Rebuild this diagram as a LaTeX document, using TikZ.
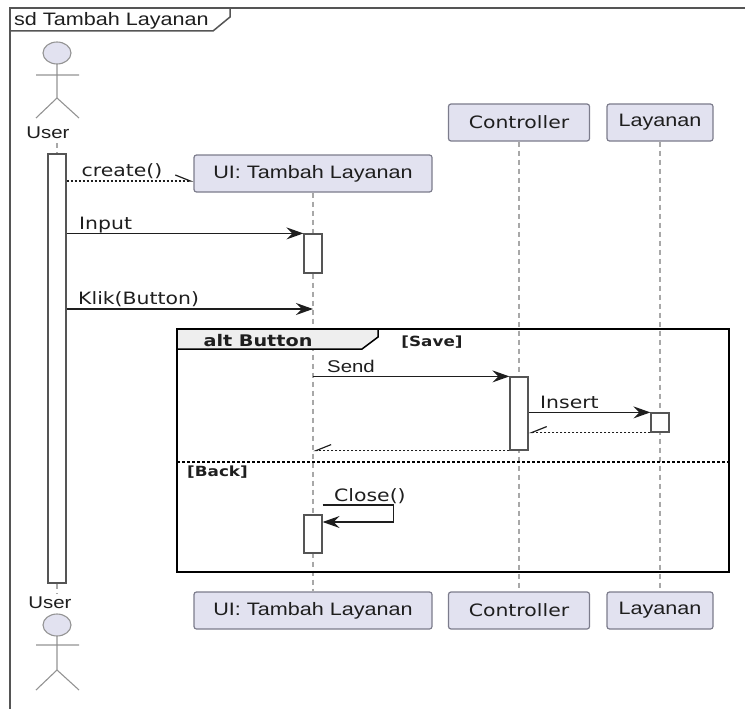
\documentclass[tikz,border=0pt]{standalone}
\usepackage{fontspec}
\setmainfont{Liberation Sans}
\newfontfamily\arialw[FakeStretch=1.2]{Liberation Sans}
\newfontfamily\vera[FakeStretch=1.2]{DejaVu Sans}
\usetikzlibrary{arrows.meta}
\definecolor{partfill}{HTML}{E2E2F0}
\definecolor{partline}{HTML}{7C7C8C}
\definecolor{lifegray}{HTML}{A8A8A8}
\definecolor{framegray}{HTML}{555555}
\definecolor{tabgray}{HTML}{EEEEEE}
\definecolor{ink}{HTML}{1E1E1E}
\tikzset{
	part/.style={draw=partline,fill=partfill,rounded corners=2.5pt,line width=1.2pt,minimum height=37pt,inner sep=0pt,text=ink,font=\arialw\fontsize{18}{20}\selectfont},
	act/.style={draw=framegray,fill=white,line width=1.2pt,minimum width=18pt,inner sep=0pt},
	life/.style={lifegray,line width=1.5pt,dash pattern=on 5pt off 4pt},
	msg/.style={ink,line width=1.3pt,-{Stealth[length=17pt,width=12pt,inset=6pt]}},
	ret/.style={ink,line width=1.2pt,dash pattern=on 2pt off 2pt,-{Straight Barb[harpoon,length=15pt,width=12pt]}},
	retback/.style={ink,line width=1.2pt,dash pattern=on 2pt off 2pt,-{Straight Barb[harpoon,swap,length=15pt,width=12pt]}},
	lbl/.style={text=ink,inner sep=0pt,anchor=base west,font=\vera\fontsize{17}{20}\selectfont},
	stick/.style={gray!85,line width=1.1pt},
	actorname/.style={text=ink,inner sep=1pt,font=\arialw\fontsize{17}{19}\selectfont},
}
\begin{document}
\begin{tikzpicture}[x=1pt,y=-1pt]
	%\draw[step=10,gray!15] (0,0) grid (745,709); %helper grid in pixels
	\useasboundingbox (0,0) rectangle (745,709);
	\draw[framegray,line width=2pt] (10,709) -- (10,8) -- (745,8); \draw[framegray,line width=1.5pt] (10,31) -- (213,31) -- (230,17) -- (230,8);
	\node[lbl,font=\arialw\fontsize{18}{20}\selectfont] (title) at (14,26) {sd Tambah Layanan};
	
	% actors
	\draw[stick,fill=partfill] (57,53) ellipse (14 and 11); \draw[stick] (36,75) -- (79,75) (57,64) -- (57,98) (36,118) -- (57,98) -- (79,118);
	\draw[stick,fill=partfill] (57,625) ellipse (14 and 11); \draw[stick] (36,645) -- (79,645) (57,636) -- (57,670) (36,690) -- (57,670) -- (79,690);
	\node[actorname] (userTop) at (48,133) {User}; \node[actorname] (userBot) at (50,603) {User};
	
	% participants
	\node[part,minimum width=238pt] (uiTop) at (313,173.5) {UI: Tambah Layanan}; \node[part,minimum width=141pt,font=\vera\fontsize{17}{20}\selectfont] (ctrlTop) at (519,122.5) {Controller}; \node[part,minimum width=106pt] (layTop) at (660,122.5) {Layanan};
	\node[part,minimum width=238pt] (uiBot) at (313,610.5) {UI: Tambah Layanan}; \node[part,minimum width=141pt,font=\vera\fontsize{17}{20}\selectfont] (ctrlBot) at (519,610.5) {Controller}; \node[part,minimum width=106pt] (layBot) at (660,610.5) {Layanan};
	\draw[life] (57,143) -- (57,594); \draw[life] (uiTop) -- (uiBot); \draw[life] (ctrlTop) -- (ctrlBot); \draw[life] (layTop) -- (layBot);
	
	% activations
	\node[act,minimum height=429pt] (actUser) at (57,368.5) {}; \node[act,minimum height=39pt] (actIn) at (313,253.5) {};
	\node[act,minimum height=73pt] (actSend) at (519,413.5) {}; \node[act,minimum height=19pt] (actIns) at (660,422.5) {};
	\node[act,minimum height=38pt] (actClose) at (313,534) {};
	
	% alt fragment
	\draw[line width=2.5pt] (177,329) rectangle (729,572);
	\draw[line width=1.5pt,fill=tabgray] (177,329) -- (378,329) -- (378,337) -- (362,349) -- (177,349) -- cycle;
	\node[lbl,anchor=base,font=\vera\bfseries\fontsize{16}{18}\selectfont] (altName) at (258,346) {alt Button}; \node[lbl,anchor=base,font=\vera\bfseries\fontsize{14}{16}\selectfont] (grdSave) at (432,346) {[Save]};
	\draw[line width=1.1pt,dash pattern=on 2.5pt off 2.5pt] (177,462) -- (729,462); \node[lbl,font=\vera\bfseries\fontsize{14}{16}\selectfont] (grdBack) at (187,476) {[Back]};
	
	% messages
	\draw[ret] (actUser.east |- 0,181) -- (uiTop.west |- 0,181); \node[lbl,anchor=base] (lCreate) at (122,176) {create()};
	\draw[msg] (actUser.east |- actIn.north) -- (actIn.north west); \node[lbl] (lInput) at (79,229) {Input};
	\draw[msg] (actUser.east |- 0,309) -- (uiTop |- 0,309); \node[lbl] (lKlik) at (78,304) {Klik(Button)};
	\draw[msg] (uiTop |- actSend.north) -- (actSend.north west); \node[lbl,font=\arialw\fontsize{17}{20}\selectfont] (lSend) at (327,372) {Send};
	\draw[msg] (actSend.east |- actIns.north) -- (actIns.north west); \node[lbl] (lInsert) at (540,408) {Insert};
	\draw[retback] (actIns.south west) -- (actSend.east |- actIns.south); \draw[retback] (actSend.south west) -- (uiTop |- actSend.south);
	\draw[msg] (actClose.east |- 0,505) -- ++(71,0) -- ++(0,17) -- (actClose.east |- 0,522); \node[lbl] (lClose) at (334,501) {Close()};
\end{tikzpicture}
\end{document}
